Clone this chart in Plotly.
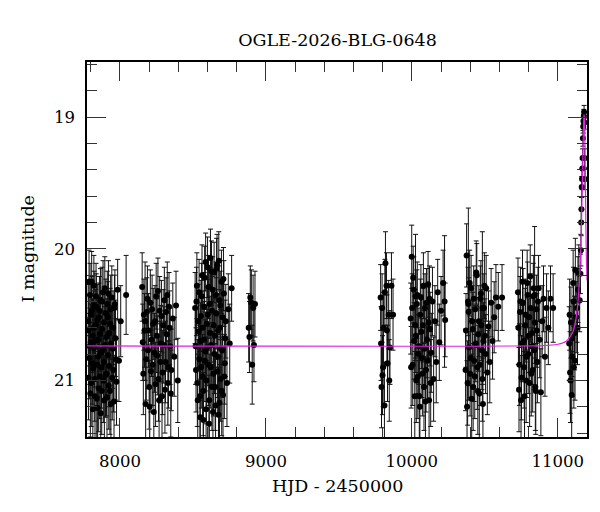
import plotly.graph_objects as go

# ---------------- data ----------------
# Season 1
t1 = [7782, 7786, 7790, 7795, 7799, 7803, 7808, 7812, 7816, 7821, 7825, 7829, 7834, 7838, 7843,
      7847, 7852, 7856, 7861, 7866, 7870, 7875, 7879, 7884, 7889, 7893, 7898, 7903, 7908, 7913,
      7918, 7923, 7928, 7933, 7938, 7944, 7950, 7956, 7962, 7969, 7976, 7984, 7993, 8005, 8042]
m1 = [20.55, 20.62, 20.83, 20.35, 20.71, 21.02, 20.47, 20.66, 20.91, 20.28, 20.75, 21.12, 20.58, 20.44, 20.88,
      21.21, 20.69, 20.52, 20.97, 20.39, 20.79, 21.08, 20.61, 20.33, 20.86, 21.15, 20.73, 20.49, 20.95, 20.42,
      20.81, 21.04, 20.64, 20.57, 21.18, 20.37, 20.76, 20.92, 20.45, 20.68, 21.01, 20.31, 20.85, 20.55, 20.35]
e1 = [0.28, 0.27, 0.31, 0.24, 0.29, 0.33, 0.26, 0.28, 0.32, 0.23, 0.30, 0.34, 0.27, 0.25, 0.31,
      0.35, 0.29, 0.26, 0.32, 0.24, 0.30, 0.33, 0.28, 0.24, 0.31, 0.34, 0.29, 0.26, 0.32, 0.25,
      0.30, 0.33, 0.28, 0.27, 0.35, 0.24, 0.30, 0.32, 0.25, 0.29, 0.33, 0.23, 0.31, 0.27, 0.30]
t1b = [7784, 7788, 7793, 7797, 7801, 7806, 7810, 7814, 7819, 7823, 7827, 7832, 7836, 7841, 7845, 7850,
       7854, 7859, 7863, 7868, 7873, 7877, 7882, 7886, 7891, 7896, 7901, 7906, 7911, 7916, 7921, 7926,
       7931, 7936, 7941, 7947, 7953, 7959, 7965, 7972]
m1b = [20.98, 20.25, 20.74, 21.10, 20.50, 20.25, 20.87, 21.22, 20.60, 20.43, 20.99, 20.70, 20.36, 21.14, 20.54, 20.82,
       21.06, 20.47, 20.65, 21.25, 20.90, 20.40, 20.77, 21.00, 20.56, 20.30, 20.96, 20.67, 21.13, 20.52, 20.34, 20.89,
       21.08, 20.46, 20.72, 20.98, 20.60, 21.16, 20.42, 20.84]
e1b = [0.32, 0.24, 0.29, 0.33, 0.27, 0.23, 0.31, 0.35, 0.28, 0.26, 0.32, 0.29, 0.25, 0.34, 0.27, 0.30,
       0.33, 0.26, 0.28, 0.36, 0.31, 0.26, 0.30, 0.32, 0.27, 0.24, 0.32, 0.29, 0.34, 0.27, 0.25, 0.31,
       0.33, 0.26, 0.29, 0.32, 0.28, 0.35, 0.26, 0.31]
# Season 2
t2 = [8152, 8160, 8168, 8176, 8184, 8192, 8200, 8208, 8216, 8224, 8232, 8240, 8248, 8256, 8264,
      8272, 8280, 8288, 8296, 8304, 8312, 8320, 8328, 8336, 8344, 8352, 8362, 8372, 8384, 8396]
m2 = [20.29, 20.95, 20.62, 21.18, 20.48, 20.77, 21.05, 20.41, 20.69, 20.88, 21.24, 20.55, 20.36, 20.81, 20.99,
      20.47, 20.72, 21.12, 20.58, 20.39, 20.86, 20.65, 21.02, 20.44, 20.74, 20.92, 20.53, 20.82, 20.43, 21.00]
e2 = [0.26, 0.31, 0.28, 0.34, 0.26, 0.29, 0.32, 0.25, 0.28, 0.31, 0.35, 0.27, 0.25, 0.30, 0.32,
      0.26, 0.29, 0.33, 0.27, 0.25, 0.31, 0.28, 0.32, 0.26, 0.29, 0.31, 0.27, 0.30, 0.26, 0.32]
t2b = [8156, 8164, 8172, 8180, 8188, 8196, 8204, 8212, 8220, 8228, 8236, 8244, 8252, 8260, 8268,
       8276, 8284, 8292, 8300, 8308, 8316, 8324, 8332, 8340, 8348]
m2b = [20.71, 20.50, 20.55, 20.84, 20.38, 20.62, 21.20, 20.93, 20.46, 20.57, 20.79, 21.03, 20.66, 20.32, 21.15,
       20.86, 20.51, 20.94, 20.73, 21.07, 20.48, 20.35, 20.90, 20.60, 21.10]
e2b = [0.29, 0.27, 0.45, 0.31, 0.25, 0.28, 0.35, 0.31, 0.26, 0.27, 0.30, 0.32, 0.28, 0.25, 0.34,
       0.31, 0.27, 0.32, 0.29, 0.33, 0.26, 0.25, 0.31, 0.28, 0.33]
# Season 3
t3 = [8515, 8521, 8527, 8533, 8539, 8545, 8550, 8555, 8560, 8565, 8570, 8575, 8580, 8585, 8590,
      8595, 8600, 8605, 8610, 8615, 8620, 8625, 8630, 8635, 8640, 8645, 8650, 8655, 8660, 8665,
      8670, 8675, 8680, 8685, 8690, 8695, 8700, 8706, 8712, 8718, 8725, 8733, 8742, 8752, 8765]
m3 = [20.45, 20.92, 20.28, 21.15, 20.63, 20.84, 21.28, 20.51, 20.36, 20.97, 21.08, 20.69, 20.22, 20.78, 21.22,
      20.57, 20.14, 20.88, 21.33, 20.42, 20.07, 20.73, 21.05, 20.31, 20.95, 20.18, 20.66, 21.19, 20.49, 20.12,
      20.82, 21.26, 20.39, 20.60, 20.99, 20.25, 20.77, 21.11, 20.34, 20.87, 20.55, 21.02, 20.46, 20.72, 20.30]
e3 = [0.27, 0.32, 0.25, 0.35, 0.29, 0.31, 0.36, 0.27, 0.25, 0.32, 0.34, 0.29, 0.24, 0.30, 0.35,
      0.28, 0.23, 0.31, 0.37, 0.26, 0.22, 0.30, 0.33, 0.25, 0.32, 0.23, 0.29, 0.35, 0.27, 0.23,
      0.31, 0.36, 0.26, 0.28, 0.32, 0.24, 0.30, 0.34, 0.25, 0.31, 0.28, 0.33, 0.27, 0.30, 0.25]
t3b = [8518, 8524, 8530, 8536, 8542, 8548, 8552, 8557, 8562, 8567, 8572, 8577, 8582, 8587, 8592, 8597,
       8602, 8607, 8612, 8617, 8622, 8627, 8632, 8637, 8642, 8647, 8652, 8657, 8662, 8667, 8672, 8677,
       8682, 8687, 8692, 8697, 8703, 8709, 8715, 8721]
m3b = [20.74, 20.40, 21.02, 20.55, 20.33, 21.12, 20.70, 20.90, 20.20, 20.60, 21.30, 20.44, 20.85, 20.10, 21.00, 20.75,
       20.50, 20.29, 21.15, 20.64, 20.90, 20.17, 20.47, 21.24, 20.58, 20.80, 21.05, 20.35, 20.15, 20.93, 20.62, 20.09,
       21.17, 20.43, 20.76, 21.08, 20.52, 20.23, 20.97, 20.68]
e3b = [0.29, 0.26, 0.33, 0.28, 0.25, 0.34, 0.29, 0.31, 0.23, 0.28, 0.36, 0.26, 0.31, 0.22, 0.33, 0.29,
       0.27, 0.24, 0.35, 0.28, 0.31, 0.23, 0.26, 0.36, 0.28, 0.30, 0.33, 0.25, 0.23, 0.32, 0.28, 0.22,
       0.35, 0.26, 0.30, 0.34, 0.27, 0.24, 0.32, 0.29]
# Small group after season 3
t3c = [8882, 8887, 8893, 8900, 8906, 8912, 8918, 8925]
m3c = [20.60, 20.67, 20.37, 20.41, 20.88, 20.45, 20.73, 20.42]
e3c = [0.26, 0.27, 0.24, 0.25, 0.30, 0.25, 0.28, 0.25]
# Season 4
t4 = [9786, 9789, 9792, 9796, 9799, 9803, 9806, 9812, 9815, 9819, 9826, 9829, 9833, 9841, 9845, 9850, 9860, 9871]
m4 = [20.37, 20.72, 21.05, 20.45, 20.96, 20.90, 20.60, 21.19, 20.33, 20.11, 20.28, 20.62, 20.87, 20.50, 21.00,
      20.75, 20.28, 20.50]
e4 = [0.25, 0.28, 0.31, 0.26, 0.30, 0.30, 0.27, 0.33, 0.25, 0.24, 0.25, 0.27, 0.29, 0.26, 0.31, 0.28, 0.25, 0.27]
# Season 5
t5 = [9992, 9999, 10006, 10013, 10020, 10025, 10027, 10034, 10041, 10048, 10055, 10062, 10069, 10076, 10083,
      10090, 10097, 10104, 10111, 10118, 10125, 10133, 10141, 10149, 10158, 10167, 10177, 10188, 10200, 10214,
      10224, 10228]
m5 = [20.53, 20.06, 20.88, 20.31, 21.12, 20.36, 20.66, 20.42, 20.97, 20.74, 21.20, 20.37, 20.83, 20.58, 21.05,
      20.45, 20.92, 20.69, 20.27, 21.15, 20.61, 20.79, 20.40, 20.99, 20.55, 20.86, 20.33, 20.71, 20.47, 20.26,
      20.40, 20.54]
e5 = [0.27, 0.24, 0.31, 0.25, 0.34, 0.47, 0.28, 0.26, 0.32, 0.29, 0.35, 0.25, 0.30, 0.28, 0.33,
      0.26, 0.32, 0.29, 0.25, 0.34, 0.28, 0.30, 0.26, 0.32, 0.27, 0.31, 0.25, 0.29, 0.26, 0.25,
      0.50, 0.28]
t5b = [9995, 10002, 10009, 10016, 10023, 10030, 10037, 10044, 10051, 10058, 10065, 10072, 10079, 10086, 10093,
       10100, 10107, 10114, 10121, 10129]
m5b = [20.90, 20.45, 20.22, 20.70, 20.58, 21.00, 20.35, 20.80, 21.12, 20.50, 20.63, 20.95, 20.28, 20.76, 21.16,
       20.41, 20.85, 20.56, 20.38, 21.02]
e5b = [0.31, 0.26, 0.24, 0.29, 0.27, 0.32, 0.25, 0.30, 0.34, 0.27, 0.28, 0.32, 0.25, 0.29, 0.34,
       0.26, 0.31, 0.27, 0.25, 0.33]
# Season 6
t6 = [10368, 10375, 10382, 10387, 10389, 10396, 10403, 10410, 10417, 10424, 10431, 10438, 10445, 10452, 10459,
      10466, 10473, 10480, 10483, 10487, 10494, 10501, 10509, 10517, 10525, 10534, 10543, 10553, 10564, 10576,
      10592, 10618]
m6 = [20.92, 20.05, 21.02, 20.42, 20.48, 20.26, 20.83, 21.14, 20.61, 20.38, 20.97, 20.72, 20.20, 21.08, 20.55,
      20.88, 20.34, 20.77, 20.45, 21.18, 20.45, 20.66, 20.30, 20.94, 20.59, 20.86, 20.41, 20.70, 20.52, 20.37,
      20.44, 20.37]
e6 = [0.31, 0.24, 0.32, 0.73, 0.26, 0.25, 0.30, 0.34, 0.28, 0.25, 0.32, 0.29, 0.24, 0.33, 0.27,
      0.31, 0.25, 0.30, 0.58, 0.35, 0.26, 0.28, 0.25, 0.32, 0.27, 0.31, 0.26, 0.29, 0.27, 0.25,
      0.26, 0.25]
t6b = [10371, 10378, 10385, 10392, 10399, 10406, 10413, 10420, 10427, 10434, 10441, 10448, 10455, 10462, 10469,
       10476, 10483, 10490, 10497, 10505]
m6b = [20.62, 21.20, 20.40, 20.75, 20.95, 20.30, 20.55, 21.05, 20.85, 20.46, 20.18, 20.90, 20.65, 21.10, 20.38,
       20.58, 20.99, 20.70, 20.28, 20.80]
e6b = [0.28, 0.35, 0.26, 0.29, 0.32, 0.25, 0.27, 0.33, 0.31, 0.26, 0.24, 0.32, 0.28, 0.34, 0.25,
       0.27, 0.32, 0.29, 0.25, 0.30]
# Season 7
t7 = [10727, 10734, 10741, 10748, 10755, 10762, 10769, 10776, 10783, 10790, 10797, 10804, 10811, 10818, 10825,
      10832, 10839, 10841, 10846, 10853, 10860, 10868, 10876, 10884, 10893, 10902, 10912, 10923, 10935, 10950,
      10968]
m7 = [20.33, 21.07, 20.48, 21.15, 20.72, 20.41, 20.90, 20.58, 21.00, 20.26, 20.80, 20.52, 20.21, 20.95, 20.64,
      20.36, 20.77, 20.35, 21.05, 20.46, 20.86, 20.30, 20.69, 21.09, 20.55, 20.38, 20.82, 20.45, 20.60, 20.38,
      20.45]
e7 = [0.26, 0.32, 0.27, 0.34, 0.29, 0.26, 0.31, 0.28, 0.32, 0.25, 0.30, 0.27, 0.24, 0.32, 0.28,
      0.25, 0.30, 0.52, 0.33, 0.26, 0.31, 0.25, 0.29, 0.33, 0.27, 0.25, 0.30, 0.26, 0.28, 0.25,
      0.26]
t7b = [10730, 10737, 10744, 10751, 10758, 10765, 10772, 10779, 10786, 10793, 10800, 10807, 10814, 10821, 10828,
       10835, 10842, 10849, 10856, 10864]
m7b = [20.60, 20.88, 20.40, 20.98, 20.25, 20.70, 21.12, 20.50, 20.82, 20.35, 20.66, 21.02, 20.45, 20.74, 20.92,
       20.30, 20.56, 21.08, 20.62, 20.40]
e7b = [0.28, 0.31, 0.26, 0.32, 0.24, 0.29, 0.34, 0.27, 0.31, 0.25, 0.28, 0.33, 0.26, 0.29, 0.32,
       0.25, 0.27, 0.33, 0.28, 0.26]
# Season 8 (event)
t8 = [11078, 11081, 11084, 11087, 11090, 11095, 11098, 11100, 11105, 11108, 11110, 11115, 11118, 11120, 11126,
      11132, 11135, 11138, 11144, 11150,
      11155, 11158, 11160, 11162, 11164, 11166, 11168, 11170, 11172, 11174, 11176, 11178, 11180, 11182, 11184, 11186]
m8 = [20.72, 20.50, 20.94, 21.00, 20.56, 21.11, 20.68, 20.82, 20.26, 20.40, 20.90, 20.64, 20.85, 20.16, 20.52,
      20.45, 20.60, 20.31, 20.19, 20.39,
      20.19, 20.01, 19.80, 19.70, 19.53, 19.47, 19.39, 19.31, 19.16, 19.07, 19.03, 18.99, 18.96, 19.04, 19.31, 19.47]
e8 = [0.28, 0.27, 0.31, 0.32, 0.27, 0.33, 0.29, 0.30, 0.25, 0.26, 0.31, 0.28, 0.30, 0.24, 0.27,
      0.26, 0.28, 0.25, 0.22, 0.24,
      0.15, 0.12, 0.10, 0.09, 0.08, 0.08, 0.07, 0.07, 0.06, 0.05, 0.05, 0.05, 0.05, 0.05, 0.07, 0.08]

# Model curve
model_t = [7774, 10900, 11000, 11060, 11100, 11120, 11135, 11145, 11152, 11158, 11163, 11168, 11172,
           11176, 11179, 11182, 11185, 11188, 11191, 11194, 11197, 11200]
model_m = [20.737, 20.735, 20.725, 20.70, 20.64, 20.56, 20.44, 20.30, 20.16, 19.98, 19.77, 19.52, 19.30,
           19.08, 18.98, 19.00, 19.15, 19.40, 19.70, 19.95, 20.12, 20.24]

title_text = "OGLE-2026-BLG-0648"
x_title = "HJD - 2450000"
y_title = "I magnitude"

t_all = t1 + t1b + t2 + t2b + t3 + t3b + t3c + t4 + t5 + t5b + t6 + t6b + t7 + t7b + t8
m_all = m1 + m1b + m2 + m2b + m3 + m3b + m3c + m4 + m5 + m5b + m6 + m6b + m7 + m7b + m8
e_all = e1 + e1b + e2 + e2b + e3 + e3b + e3c + e4 + e5 + e5b + e6 + e6b + e7 + e7b + e8

FONT = "DejaVu Serif"

fig = go.Figure()
fig.add_trace(go.Scatter(
    x=t_all, y=m_all, mode="markers",
    marker=dict(color="black", size=6),
    error_y=dict(type="data", array=e_all, symmetric=True, color="#111111",
                 thickness=1, width=2.5),
    showlegend=False,
))
fig.add_trace(go.Scatter(
    x=model_t, y=model_m, mode="lines",
    line=dict(color="#e020e0", width=1.2, shape="spline", smoothing=0.6),
    showlegend=False,
))

axis_common = dict(
    showgrid=False, zeroline=False, showline=True, linecolor="black", linewidth=1.5,
    mirror="allticks", ticks="inside", ticklen=19, tickwidth=1, tickcolor="#333333",
    tickfont=dict(family=FONT, size=16.5, color="black"),
)

fig.update_layout(
    width=600, height=512,
    margin=dict(l=87, r=13, t=62, b=75),
    paper_bgcolor="white", plot_bgcolor="white",
    title=dict(text=title_text, x=0.5625, xanchor="center", xref="container",
               y=1 - 40 / 512, yanchor="middle", yref="container",
               font=dict(family=FONT, size=17.5, color="black")),
    xaxis=dict(range=[7774, 11200], dtick=1000, tick0=0, tickformat="d",
               minor=dict(dtick=200, tick0=0, ticks="inside", ticklen=10, tickcolor="#333333", tickwidth=1),
               ticklabelstandoff=8, **axis_common),
    yaxis=dict(range=[21.43, 18.58], dtick=1, tick0=0, tickformat="d",
               minor=dict(dtick=0.2, tick0=0, ticks="inside", ticklen=10, tickcolor="#333333", tickwidth=1),
               ticklabelstandoff=7, **axis_common),
    annotations=[
        dict(text=x_title, xref="paper", yref="paper", x=0.5, y=(437 - 486) / 375,
             xanchor="center", yanchor="middle", showarrow=False,
             font=dict(family=FONT, size=17.5, color="black")),
        dict(text=y_title, xref="paper", yref="paper", x=(27 - 87) / 500, y=0.5,
             xanchor="center", yanchor="middle", showarrow=False, textangle=-90,
             font=dict(family=FONT, size=17.5, color="black")),
    ],
)

fig.write_html("out.html")
